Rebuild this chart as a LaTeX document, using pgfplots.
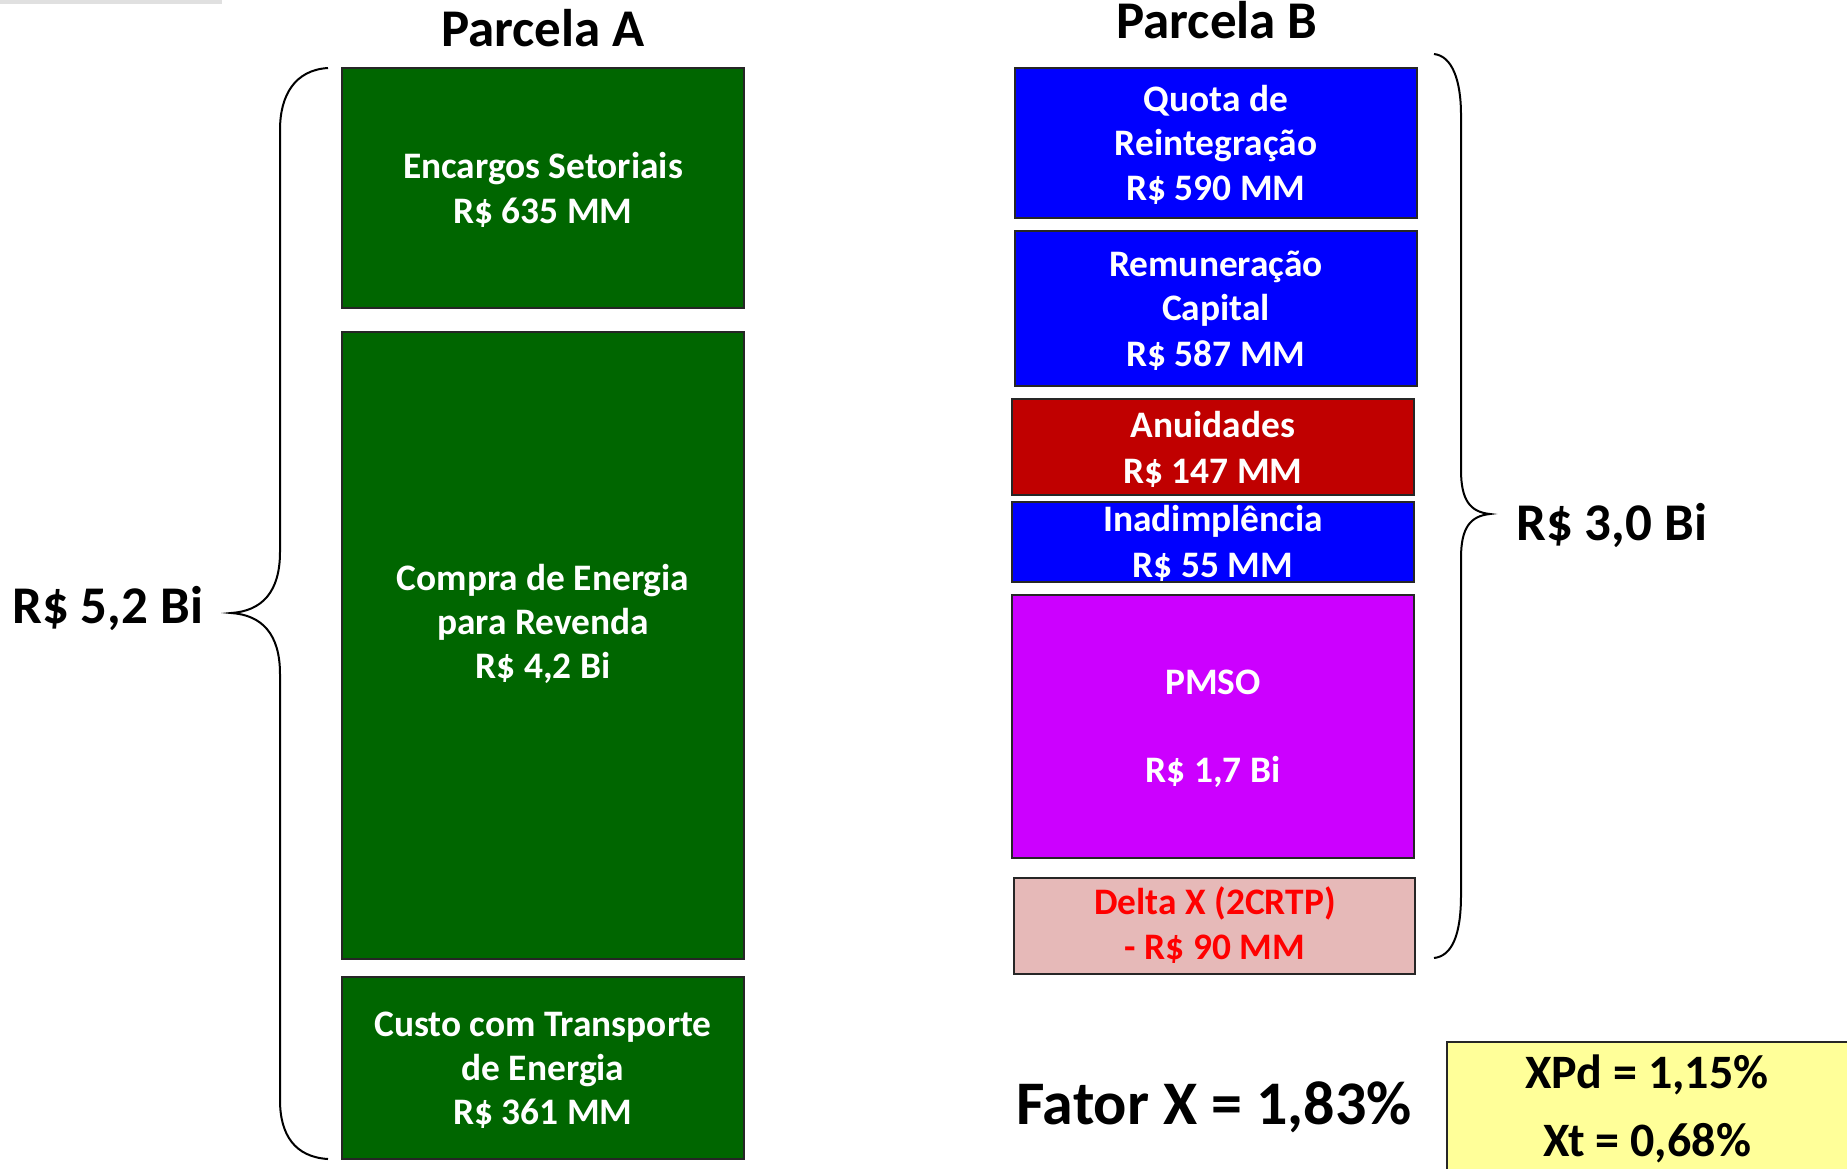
\documentclass[border=0pt]{standalone}
\usepackage{pgfplots}
\pgfplotsset{compat=1.18}
\usepackage{fontspec}
\setmainfont{Carlito}
\definecolor{pgreen}{HTML}{006600}
\definecolor{pblue}{HTML}{0000FF}
\definecolor{pred}{HTML}{C00000}
\definecolor{pmag}{HTML}{CC00FF}
\definecolor{ppink}{HTML}{E6B9B8}
\definecolor{pyel}{HTML}{FFFF99}
\definecolor{tred}{HTML}{FF0000}
\newcommand{\txt}[5]{\node[anchor=base, inner sep=0pt, text=#3, font=\fontsize{#4}{#4}\selectfont\bfseries] at (axis cs:#1,#2) {#5};}
\begin{document}
\begin{tikzpicture}
\begin{axis}[width=1847pt, height=1168pt, scale only axis,
  xmin=0, xmax=1847, ymin=0, ymax=1168, y dir=reverse,
  hide axis, clip=false]
% faint shadow top-left
\addplot[black!12, line width=5pt, mark=none] coordinates {(0,1.5) (222,1.5)};
% Parcela A boxes
\addplot[fill=pgreen, draw=black!85, line width=2.5pt, mark=none] coordinates {(342,68) (744,68) (744,308) (342,308)} -- cycle;
\addplot[fill=pgreen, draw=black!85, line width=2.5pt, mark=none] coordinates {(342,332) (744,332) (744,959) (342,959)} -- cycle;
\addplot[fill=pgreen, draw=black!85, line width=2.5pt, mark=none] coordinates {(342,977) (744,977) (744,1159) (342,1159)} -- cycle;
% Parcela B boxes
\addplot[fill=pblue, draw=black!85, line width=2.5pt, mark=none] coordinates {(1015,68) (1417,68) (1417,218) (1015,218)} -- cycle;
\addplot[fill=pblue, draw=black!85, line width=2.5pt, mark=none] coordinates {(1015,231) (1417,231) (1417,386) (1015,386)} -- cycle;
\addplot[fill=pred, draw=black!85, line width=2.5pt, mark=none] coordinates {(1012,399) (1414,399) (1414,495) (1012,495)} -- cycle;
\addplot[fill=pblue, draw=black!85, line width=2.5pt, mark=none] coordinates {(1012,502) (1414,502) (1414,582) (1012,582)} -- cycle;
\addplot[fill=pmag, draw=black!85, line width=2.5pt, mark=none] coordinates {(1012,595) (1414,595) (1414,858) (1012,858)} -- cycle;
\addplot[fill=ppink, draw=black!85, line width=2.5pt, mark=none] coordinates {(1014,878) (1415,878) (1415,974) (1014,974)} -- cycle;
% yellow box
\addplot[fill=pyel, draw=black!85, line width=2.5pt, mark=none] coordinates {(1447,1042) (1860,1042) (1860,1180) (1447,1180)} -- cycle;
% braces
\draw[line width=2pt] (axis cs:328,68) .. controls (axis cs:295,70) and (axis cs:280,95) .. (axis cs:280,130) -- (axis cs:280,552) .. controls (axis cs:280,592) and (axis cs:262,611) .. (axis cs:231,613) .. controls (axis cs:262,615) and (axis cs:280,634) .. (axis cs:280,674) -- (axis cs:280,1100) .. controls (axis cs:280,1135) and (axis cs:295,1157) .. (axis cs:328,1159);
\draw[line width=2pt] (axis cs:1434,54) .. controls (axis cs:1452,56) and (axis cs:1461,80) .. (axis cs:1461,115) -- (axis cs:1461,470) .. controls (axis cs:1461,500) and (axis cs:1470,512) .. (axis cs:1490,514) .. controls (axis cs:1470,516) and (axis cs:1461,528) .. (axis cs:1461,558) -- (axis cs:1461,895) .. controls (axis cs:1461,935) and (axis cs:1452,956) .. (axis cs:1434,958);
% titles
\txt{543}{46}{black}{53}{Parcela A}
\txt{1217}{38}{black}{53}{Parcela B}
\node[anchor=base west, inner sep=0pt, font=\fontsize{53}{53}\selectfont\bfseries] at (axis cs:12,623) {R\$ 5,2 Bi};
\node[anchor=base west, inner sep=0pt, font=\fontsize{53}{53}\selectfont\bfseries] at (axis cs:1516,540) {R\$ 3,0 Bi};
% Parcela A texts
\txt{543}{178}{white}{37.4}{Encargos Setoriais}
\txt{543}{223}{white}{37.4}{R\$ 635 MM}
\txt{543}{590}{white}{37.4}{Compra de Energia}
\txt{543}{634}{white}{37.4}{para Revenda}
\txt{543}{678}{white}{37.4}{R\$ 4,2 Bi}
\txt{543}{1036}{white}{37.4}{Custo com Transporte}
\txt{543}{1080}{white}{37.4}{de Energia}
\txt{543}{1124}{white}{37.4}{R\$ 361 MM}
% Parcela B texts
\txt{1216}{111}{white}{37.4}{Quota de}
\txt{1216}{155}{white}{37.4}{Reintegração}
\txt{1216}{200}{white}{37.4}{R\$ 590 MM}
\txt{1216}{276}{white}{37.4}{Remuneração}
\txt{1216}{320}{white}{37.4}{Capital}
\txt{1216}{366}{white}{37.4}{R\$ 587 MM}
\txt{1213}{437}{white}{37.4}{Anuidades}
\txt{1213}{483}{white}{37.4}{R\$ 147 MM}
\txt{1213}{531}{white}{37.4}{Inadimplência}
\txt{1213}{577}{white}{37.4}{R\$ 55 MM}
\txt{1213}{694}{white}{37.4}{PMSO}
\txt{1213}{782}{white}{37.4}{R\$ 1,7 Bi}
\txt{1215}{914}{tred}{37.4}{Delta X (2CRTP)}
\txt{1215}{959}{tred}{37.4}{- R\$ 90 MM}
% Fator X
\node[anchor=base west, inner sep=0pt, font=\fontsize{62}{62}\selectfont\bfseries] at (axis cs:1016,1124) {Fator X = 1,83\%};
\txt{1647}{1088}{black}{48}{XPd = 1,15\%}
\txt{1647}{1156}{black}{48}{Xt = 0,68\%}
\end{axis}
\pgfresetboundingbox
\path[use as bounding box] (current axis.south west) rectangle (current axis.north east);
\end{tikzpicture}
\end{document}
